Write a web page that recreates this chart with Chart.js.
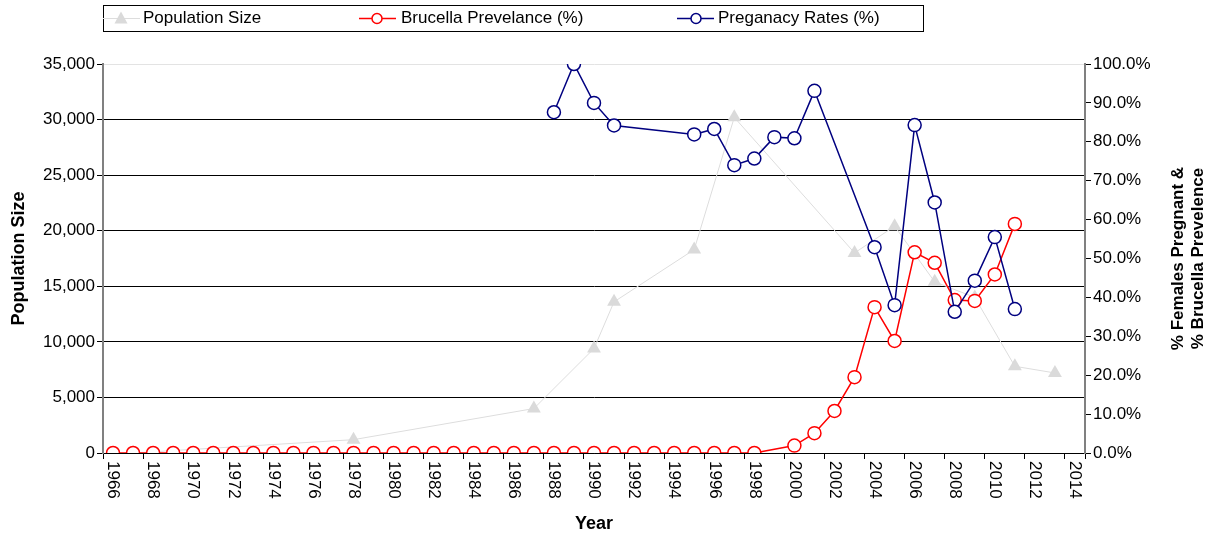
<!DOCTYPE html>
<html>
<head>
<meta charset="utf-8">
<title>Population Size, Brucella Prevelance and Preganacy Rates</title>
<script src="https://cdn.jsdelivr.net/npm/chart.js@4.4.1/dist/chart.umd.min.js"></script>
<style>
  html, body { margin: 0; padding: 0; background: #fff; }
  #chart { display: block; }
</style>
</head>
<body>
<canvas id="chart" width="1221" height="535"></canvas>
<script>
/* ---------- Datos ---------- */
const years = [
  '1966', '1967', '1968', '1969', '1970', '1971', '1972', '1973', '1974', '1975',
  '1976', '1977', '1978', '1979', '1980', '1981', '1982', '1983', '1984', '1985',
  '1986', '1987', '1988', '1989', '1990', '1991', '1992', '1993', '1994', '1995',
  '1996', '1997', '1998', '1999', '2000', '2001', '2002', '2003', '2004', '2005',
  '2006', '2007', '2008', '2009', '2010', '2011', '2012', '2013', '2014'
];

// Population size (left axis)
const populationSize = [
  null, 0, null, null, null, null, null, null, null, null,
  null, null, 1200, null, null, null, null, null, null, null,
  null, 4000, null, null, 9400, 13600, null, null, null, 18300,
  null, 30200, null, null, null, null, null, 18000, null, 20400,
  null, 15400, null, 14000, null, 7800, null, 7200, null
];

// Brucella prevalence (%) (right axis)
const brucellaPrevalence = [
  0, 0, 0, 0, 0, 0, 0, 0, 0, 0,
  0, 0, 0, 0, 0, 0, 0, 0, 0, 0,
  0, 0, 0, 0, 0, 0, 0, 0, 0, 0,
  0, 0, 0, null, 1.9, 5.1, 10.8, 19.5, 37.5, 28.8,
  51.6, 48.9, 39.3, 39.1, 45.9, 58.9, null, null, null
];

// Pregnancy rates (%) (right axis)
const pregnancyRates = [
  null, null, null, null, null, null, null, null, null, null,
  null, null, null, null, null, null, null, null, null, null,
  null, null, 87.6, 100, 90.0, 84.2, null, null, null, 81.9,
  83.3, 74.0, 75.7, 81.2, 80.9, 93.1, null, null, 52.9, 38.0,
  84.3, 64.4, 36.3, 44.3, 55.5, 37.0, null, null, null
];

const leftTicks = [0, 5000, 10000, 15000, 20000, 25000, 30000, 35000];
const rightTicks = [0, 10, 20, 30, 40, 50, 60, 70, 80, 90, 100];

const legendItems = ['Population Size', 'Brucella Prevelance (%)', 'Preganacy Rates (%)'];
const rightTitleLines = ['% Females Pregnant &', '% Brucella Prevelence'];

/* ---------- Estilos ---------- */
const FONT = '"Liberation Sans", Arial, sans-serif';
const palette = {
  pop: '#DADADA',
  popLine: '#DDDDDD',
  red: '#FF0000',
  navy: '#000080',
  axis: '#808080',
  ink: '#000000'
};

Chart.defaults.font.family = FONT;
Chart.defaults.font.size = 17;
Chart.defaults.color = '#000';

/* ---------- Plugin: etiquetas del eje X, título derecho y leyenda ---------- */
const decorations = {
  id: 'decorations',
  afterDraw(chart) {
    const ctx = chart.ctx;
    const xs = chart.scales.x;

    // year labels, rotated clockwise (read top to bottom)
    ctx.save();
    ctx.font = '17px ' + FONT;
    ctx.fillStyle = '#000';
    ctx.textAlign = 'left';
    ctx.textBaseline = 'middle';
    years.forEach((y, i) => {
      if (i % 2) return;
      const x = xs.getPixelForTick(i);
      ctx.save();
      ctx.translate(x, chart.chartArea.bottom + 8);
      ctx.rotate(Math.PI / 2);
      ctx.fillText(y, 0, 0);
      ctx.restore();
    });
    ctx.restore();

    // right axis title, two lines reading bottom to top
    ctx.save();
    ctx.font = 'bold 17px ' + FONT;
    ctx.fillStyle = '#000';
    ctx.textAlign = 'center';
    ctx.textBaseline = 'middle';
    const midY = (chart.chartArea.top + chart.chartArea.bottom) / 2;
    [1178, 1198].forEach((tx, k) => {
      ctx.save();
      ctx.translate(tx, midY);
      ctx.rotate(-Math.PI / 2);
      ctx.fillText(rightTitleLines[k], 0, 0);
      ctx.restore();
    });
    ctx.restore();

    // legend box
    ctx.save();
    ctx.strokeStyle = '#000';
    ctx.lineWidth = 1;
    ctx.strokeRect(103.5, 5.5, 820, 26);
    const cy = 18.5;
    const entries = [
      { x0: 103, x1: 140, mx: 121, text: 143, color: palette.popLine, marker: 'triangle' },
      { x0: 359, x1: 396, mx: 377, text: 401, color: palette.red, marker: 'circle' },
      { x0: 677, x1: 714, mx: 696, text: 718, color: palette.navy, marker: 'circle' }
    ];
    entries.forEach((e, k) => {
      ctx.strokeStyle = e.color;
      ctx.lineWidth = k ? 1.5 : 1;
      ctx.beginPath();
      ctx.moveTo(e.x0, cy);
      ctx.lineTo(e.x1, cy);
      ctx.stroke();
      if (e.marker === 'triangle') {
        ctx.fillStyle = palette.pop;
        ctx.beginPath();
        ctx.moveTo(e.mx, cy - 7);
        ctx.lineTo(e.mx + 6.5, cy + 5);
        ctx.lineTo(e.mx - 6.5, cy + 5);
        ctx.closePath();
        ctx.fill();
      } else {
        ctx.fillStyle = '#fff';
        ctx.beginPath();
        ctx.arc(e.mx, cy, 5, 0, Math.PI * 2);
        ctx.fill();
        ctx.stroke();
      }
      ctx.fillStyle = '#000';
      ctx.font = '17px ' + FONT;
      ctx.textAlign = 'left';
      ctx.textBaseline = 'middle';
      ctx.fillText(legendItems[k], e.text, cy);
    });
    ctx.restore();
  }
};

/* ---------- Gráfico ---------- */
new Chart(document.getElementById('chart'), {
  type: 'line',
  data: {
    labels: years,
    datasets: [
      {
        label: legendItems[0],
        data: populationSize,
        yAxisID: 'y',
        order: 3,
        spanGaps: true,
        borderColor: palette.popLine,
        borderWidth: 1,
        backgroundColor: palette.pop,
        pointStyle: 'triangle',
        pointRadius: 8,
        pointBorderWidth: 0,
        pointBackgroundColor: palette.pop,
        tension: 0
      },
      {
        label: legendItems[1],
        data: brucellaPrevalence,
        yAxisID: 'y1',
        order: 2,
        spanGaps: true,
        borderColor: palette.red,
        borderWidth: 1.5,
        pointRadius: 6.5,
        pointBorderWidth: 1.5,
        pointBackgroundColor: '#fff',
        pointBorderColor: palette.red,
        tension: 0
      },
      {
        label: legendItems[2],
        data: pregnancyRates,
        yAxisID: 'y1',
        order: 1,
        spanGaps: true,
        borderColor: palette.navy,
        borderWidth: 1.5,
        pointRadius: 6.5,
        pointBorderWidth: 1.5,
        pointBackgroundColor: '#fff',
        pointBorderColor: palette.navy,
        tension: 0
      }
    ]
  },
  options: {
    responsive: false,
    animation: false,
    layout: { padding: { top: 64, left: 0, right: 0, bottom: 0 } },
    plugins: {
      legend: { display: false },
      tooltip: { enabled: false }
    },
    scales: {
      x: {
        type: 'category',
        offset: true,
        border: { color: palette.ink, width: 1 },
        grid: {
          offset: true,
          drawOnChartArea: false,
          tickLength: 6,
          tickColor: (c) => (c.index % 2 ? 'rgba(0,0,0,0)' : palette.ink)
        },
        ticks: { display: false, autoSkip: false },
        title: {
          display: true,
          text: 'Year',
          font: { size: 18, weight: 'bold' },
          padding: { top: 0, bottom: 0 }
        },
        afterFit(scale) { scale.height = 82; }
      },
      y: {
        position: 'left',
        min: 0,
        max: 35000,
        afterBuildTicks(scale) { scale.ticks = leftTicks.map(v => ({ value: v })); },
        border: { color: palette.axis, width: 2 },
        grid: {
          color: (c) => (c.tick && c.tick.value === 35000 ? '#E3E3E3' : palette.ink),
          tickColor: palette.ink,
          tickLength: 6,
          lineWidth: 1
        },
        ticks: {
          padding: 2,
          callback: (v) => v.toLocaleString('en-US')
        },
        title: {
          display: true,
          text: 'Population Size',
          font: { size: 18, weight: 'bold' },
          padding: { top: 8, bottom: 0 }
        },
        afterFit(scale) { scale.width = 103; }
      },
      y1: {
        position: 'right',
        min: 0,
        max: 100,
        afterBuildTicks(scale) { scale.ticks = rightTicks.map(v => ({ value: v })); },
        border: { color: palette.axis, width: 2 },
        grid: {
          drawOnChartArea: false,
          tickColor: palette.ink,
          tickLength: 6
        },
        ticks: {
          padding: 2,
          callback: (v) => v.toFixed(1) + '%'
        },
        afterFit(scale) { scale.width = 136; }
      }
    }
  },
  plugins: [decorations]
});
</script>
</body>
</html>
